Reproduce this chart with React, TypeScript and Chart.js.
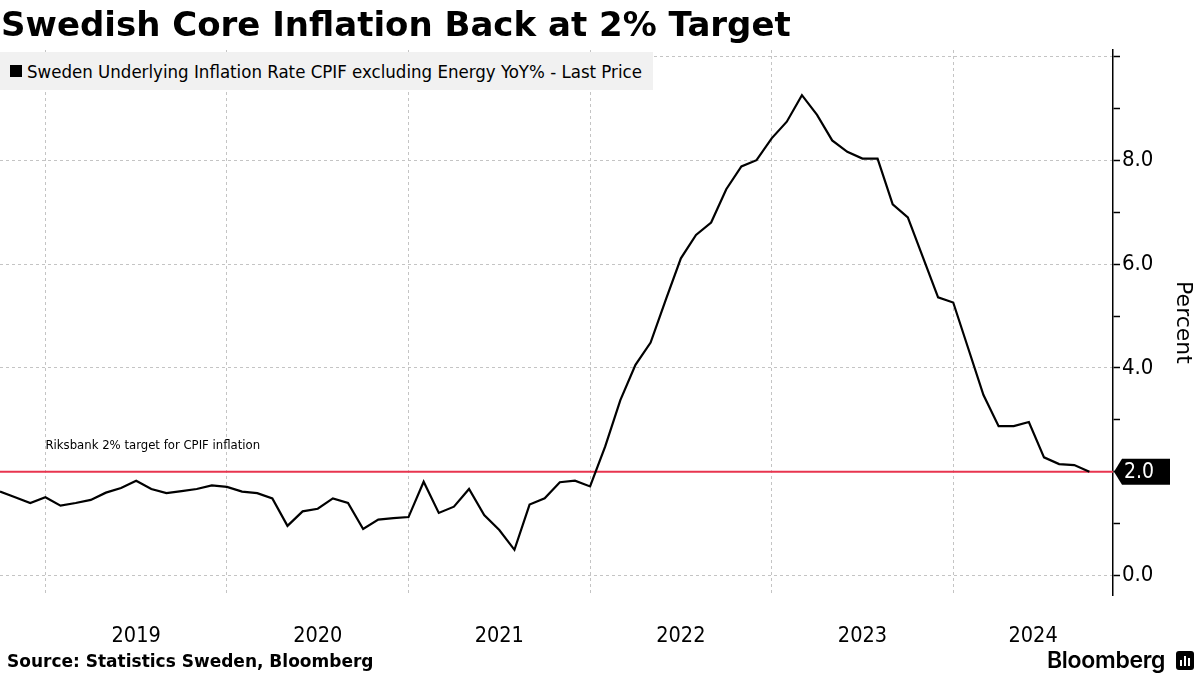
import React, { useEffect, useRef } from "react";
import { Chart, registerables } from "chart.js";

Chart.register(...registerables);

// Month-end observations, Sep 2018 .. Sep 2024 (index 0 = Sep 2018)
const months: string[] = [
  "2018-09", "2018-10", "2018-11", "2018-12",
  "2019-01", "2019-02", "2019-03", "2019-04", "2019-05", "2019-06", "2019-07", "2019-08", "2019-09", "2019-10", "2019-11", "2019-12",
  "2020-01", "2020-02", "2020-03", "2020-04", "2020-05", "2020-06", "2020-07", "2020-08", "2020-09", "2020-10", "2020-11", "2020-12",
  "2021-01", "2021-02", "2021-03", "2021-04", "2021-05", "2021-06", "2021-07", "2021-08", "2021-09", "2021-10", "2021-11", "2021-12",
  "2022-01", "2022-02", "2022-03", "2022-04", "2022-05", "2022-06", "2022-07", "2022-08", "2022-09", "2022-10", "2022-11", "2022-12",
  "2023-01", "2023-02", "2023-03", "2023-04", "2023-05", "2023-06", "2023-07", "2023-08", "2023-09", "2023-10", "2023-11", "2023-12",
  "2024-01", "2024-02", "2024-03", "2024-04", "2024-05", "2024-06", "2024-07", "2024-08", "2024-09",
];

const cpifExEnergy: number[] = [
  1.62, 1.51, 1.40, 1.51, 1.35, 1.40, 1.46, 1.60, 1.69, 1.83, 1.67, 1.59, 1.63, 1.67, 1.74, 1.71,
  1.62, 1.59, 1.49, 0.96, 1.24, 1.29, 1.49, 1.40, 0.90, 1.08, 1.11, 1.13,
  1.81, 1.21, 1.33, 1.67, 1.17, 0.88, 0.50, 1.37, 1.49, 1.80, 1.83, 1.72,
  2.49, 3.38, 4.06, 4.49, 5.31, 6.11, 6.56, 6.80, 7.44, 7.88, 8.00, 8.42,
  8.74, 9.25, 8.87, 8.38, 8.16, 8.03, 8.03, 7.15, 6.90, 6.13, 5.36, 5.26,
  4.37, 3.48, 2.88, 2.88, 2.96, 2.28, 2.15, 2.13, 2.00,
];

const targetRate = 2.0;
const yearLabels: string[] = ["2019", "2020", "2021", "2022", "2023", "2024"];
// index of the month-end that coincides with each Jan 1 boundary
const yearStartIndex: number[] = [3, 15, 27, 39, 51, 63];
const yTickValues: number[] = [0, 1, 2, 3, 4, 5, 6, 7, 8, 9, 10];

const X_MIN = 0;
const X_MAX = 73.56;
const Y_MIN = -0.37;
const Y_MAX = 10.12;

const NARROW = '"DejaVu Sans Condensed", "DejaVu Sans", sans-serif';
const SANS = '"DejaVu Sans", sans-serif';

const seriesLabel = "Sweden Underlying Inflation Rate CPIF excluding Energy YoY% - Last Price";
const annotationText = "Riksbank 2% target for CPIF inflation";

export default function App() {
  const canvasRef = useRef<HTMLCanvasElement | null>(null);

  useEffect(() => {
    if (!canvasRef.current) return;
    const yearMid = yearStartIndex.map((s) => (s + Math.min(s + 12, X_MAX)) / 2);
    const lineData = cpifExEnergy.map((v, i) => ({ x: i, y: v }));
    const targetData = [
      { x: X_MIN, y: targetRate },
      { x: X_MAX, y: targetRate },
    ];

    const overlay = {
      id: "overlay",
      afterDatasetsDraw(chart: any) {
        const { ctx, scales } = chart;
        const xs = scales.x;
        const ys = scales.y;
        ctx.save();
        ctx.fillStyle = "#000";
        ctx.font = `13px ${NARROW}`;
        ctx.textBaseline = "middle";
        ctx.textAlign = "left";
        ctx.fillText(annotationText, xs.getPixelForValue(3), ys.getPixelForValue(2.5));
        ctx.restore();
      },
      afterDraw(chart: any) {
        const { ctx, scales, chartArea } = chart;
        const ys = scales.y;
        const last = cpifExEnergy[cpifExEnergy.length - 1];
        const y = ys.getPixelForValue(last);
        const x = chartArea.right + 1;
        ctx.save();
        ctx.fillStyle = "#000";
        ctx.beginPath();
        ctx.moveTo(x, y);
        ctx.lineTo(x + 8, y - 13);
        ctx.lineTo(x + 56, y - 13);
        ctx.lineTo(x + 56, y + 13);
        ctx.lineTo(x + 8, y + 13);
        ctx.closePath();
        ctx.fill();
        ctx.fillStyle = "#fff";
        ctx.font = `21px ${NARROW}`;
        ctx.textBaseline = "middle";
        ctx.textAlign = "left";
        ctx.fillText(last.toFixed(1), x + 10, y + 1);
        ctx.restore();
      },
    };

    const chart = new Chart(canvasRef.current, {
      type: "line",
      data: {
        datasets: [
          {
            label: seriesLabel,
            data: lineData,
            borderColor: "#000",
            borderWidth: 2.2,
            pointRadius: 0,
            tension: 0,
            xAxisID: "x",
            yAxisID: "y",
          },
          {
            label: "Target",
            data: targetData,
            borderColor: "#e8354f",
            borderWidth: 2,
            pointRadius: 0,
            tension: 0,
            xAxisID: "x",
            yAxisID: "y",
          },
        ],
      },
      options: {
        responsive: false,
        animation: false,
        layout: { padding: { top: 50, left: 0, right: 0, bottom: 0 } },
        plugins: { legend: { display: false }, tooltip: { enabled: false } },
        scales: {
          x: {
            type: "linear",
            position: "bottom",
            min: X_MIN,
            max: X_MAX,
            afterBuildTicks: (s: any) => {
              s.ticks = yearStartIndex.map((v) => ({ value: v }));
            },
            grid: { color: "#c4c4c4", lineWidth: 1, drawTicks: false },
            border: { display: false, dash: [3, 3] },
            ticks: { display: false },
            afterFit: (s: any) => {
              s.height = 0;
              s.paddingLeft = 0;
              s.paddingRight = 0;
            },
          },
          x2: {
            type: "linear",
            position: "bottom",
            min: X_MIN,
            max: X_MAX,
            afterBuildTicks: (s: any) => {
              s.ticks = yearMid.map((v) => ({ value: v }));
            },
            grid: { display: false, drawTicks: false },
            border: { display: false },
            ticks: {
              autoSkip: false,
              maxRotation: 0,
              padding: 29,
              color: "#000",
              font: { family: NARROW, size: 21.5 },
              callback: (_v: any, i: number) => yearLabels[i],
            },
            afterFit: (s: any) => {
              s.height = 80;
              s.paddingLeft = 0;
              s.paddingRight = 0;
            },
          },
          y: {
            type: "linear",
            position: "right",
            min: Y_MIN,
            max: Y_MAX,
            afterBuildTicks: (s: any) => {
              s.ticks = yTickValues.map((v) => ({ value: v }));
            },
            grid: {
              color: (c: any) =>
                c.tick && c.tick.value % 2 === 0 ? "#c4c4c4" : "rgba(0,0,0,0)",
              tickColor: "#000",
              tickLength: 7,
              tickWidth: 1.5,
              lineWidth: 1,
            },
            border: { display: true, color: "#000", width: 1.5, dash: [3, 3] },
            ticks: {
              padding: 2,
              color: "#000",
              font: { family: NARROW, size: 22 },
              callback: (v: any) => (v % 2 === 0 && v < 10 ? Number(v).toFixed(1) : ""),
            },
            title: {
              display: true,
              text: "Percent",
              color: "#000",
              font: { family: SANS, size: 22 },
              padding: { top: 4, bottom: 0 },
            },
            afterFit: (s: any) => {
              s.width = 87;
              s.paddingTop = 0;
              s.paddingBottom = 0;
            },
          },
        },
      },
      plugins: [overlay],
    } as any);

    return () => chart.destroy();
  }, []);

  return (
    <div style={{ position: "absolute", left: 0, top: 0, width: 1200, height: 675, background: "#fff", overflow: "hidden" }}>
      <canvas ref={canvasRef} width={1200} height={675} style={{ position: "absolute", left: 0, top: 0, width: 1200, height: 675 }} />
      <div
        style={{
          position: "absolute",
          left: 1,
          top: 1,
          fontFamily: SANS,
          fontWeight: "bold",
          fontSize: 34,
          lineHeight: "46px",
          color: "#000",
          whiteSpace: "nowrap",
        }}
      >
        Swedish Core Inflation Back at 2% Target
      </div>
      <div
        style={{
          position: "absolute",
          left: 0,
          top: 52,
          width: 653,
          height: 38,
          background: "#f1f1f1",
          display: "flex",
          alignItems: "center",
        }}
      >
        <div style={{ width: 12, height: 12, flexShrink: 0, background: "#000", marginLeft: 10, marginRight: 5 }} />
        <div style={{ fontFamily: NARROW, fontSize: 18.5, color: "#000", whiteSpace: "nowrap" }}>{seriesLabel}</div>
      </div>
      <div
        style={{
          position: "absolute",
          left: 7,
          top: 650,
          fontFamily: SANS,
          fontWeight: "bold",
          fontSize: 17,
          lineHeight: "22px",
          color: "#000",
          whiteSpace: "nowrap",
        }}
      >
        Source: Statistics Sweden, Bloomberg
      </div>
      <div
        style={{
          position: "absolute",
          left: 1047,
          top: 647,
          fontFamily: "Inter, Roboto, sans-serif",
          fontWeight: 600,
          fontSize: 23,
          lineHeight: "26px",
          color: "#000",
          whiteSpace: "nowrap",
          letterSpacing: -0.3,
        }}
      >
        Bloomberg
      </div>
      <div
        style={{
          position: "absolute",
          left: 1176,
          top: 651,
          width: 18,
          height: 19,
          background: "#000",
          borderRadius: 3,
          display: "flex",
          alignItems: "flex-end",
          justifyContent: "center",
          gap: 2,
          paddingBottom: 4,
          boxSizing: "border-box",
        }}
      >
        <div style={{ width: 2, height: 6, background: "#fff" }} />
        <div style={{ width: 2, height: 10, background: "#fff" }} />
        <div style={{ width: 2, height: 8, background: "#fff" }} />
      </div>
    </div>
  );
}
